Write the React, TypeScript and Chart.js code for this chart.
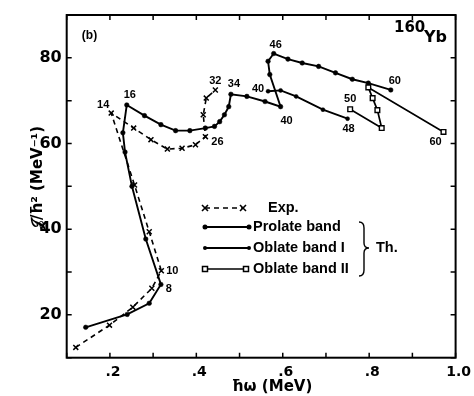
import React, { useEffect, useRef } from 'react';
import { Chart, registerables } from 'chart.js';

Chart.register(...registerables);

// ---------- data ----------
const expOmega = [0.121, 0.199, 0.253, 0.297, 0.319, 0.291, 0.257, 0.203, 0.255, 0.295, 0.333, 0.367, 0.398, 0.421, 0.416, 0.423, 0.444];
const expJ = [12.4, 17.6, 21.8, 26.2, 30.3, 39.4, 50.3, 67.1, 63.6, 60.9, 58.7, 58.9, 59.7, 61.6, 66.7, 70.6, 72.5];

const prolateOmega = [0.144, 0.240, 0.291, 0.318, 0.283, 0.251, 0.235, 0.230, 0.239, 0.280, 0.318, 0.352, 0.385, 0.421, 0.442, 0.454, 0.465, 0.475, 0.480, 0.517, 0.559, 0.595, 0.570, 0.566, 0.579, 0.612, 0.645, 0.683, 0.722, 0.761, 0.798, 0.850];
const prolateJ = [17.1, 20.1, 22.7, 27.1, 37.7, 50.0, 58.0, 62.5, 69.0, 66.5, 64.4, 63.0, 63.0, 63.6, 64.0, 65.1, 66.7, 68.6, 71.5, 71.0, 69.8, 68.6, 76.1, 79.2, 81.0, 79.7, 78.8, 78.0, 76.5, 75.0, 74.1, 72.5];

const oblate1Omega = [0.566, 0.595, 0.631, 0.693, 0.750];
const oblate1J = [72.2, 72.4, 71.0, 67.9, 65.8];

const oblate2Omega = [0.756, 0.829, 0.819, 0.808, 0.798, 0.972];
const oblate2J = [68.0, 63.6, 67.8, 70.6, 73.1, 62.7];

const xTickValues = [0.2, 0.4, 0.6, 0.8, 1.0];
const xTickLabels = ['.2', '.4', '.6', '.8', '1.0'];
const yTickValues = [20, 40, 60, 80];
const yTickLabels = ['20', '40', '60', '80'];
const xMinorTicks = [0.1, 0.2, 0.3, 0.4, 0.5, 0.6, 0.7, 0.8, 0.9, 1.0];
const yMinorTicks = [10, 20, 30, 40, 50, 60, 70, 80, 90];

const seriesNames = ['Exp.', 'Prolate band', 'Oblate band I', 'Oblate band II'];

// spin labels: dataset index, point index, text, pixel offset
const spinLabels = [
  { s: 0, i: 7, t: '14', dx: -8, dy: -8 },
  { s: 0, i: 4, t: '10', dx: 11, dy: 0 },
  { s: 0, i: 13, t: '26', dx: 12, dy: 5 },
  { s: 0, i: 16, t: '32', dx: 0, dy: -9 },
  { s: 1, i: 3, t: '8', dx: 8, dy: 5 },
  { s: 1, i: 8, t: '16', dx: 3, dy: -10 },
  { s: 1, i: 18, t: '34', dx: 3, dy: -10 },
  { s: 1, i: 21, t: '40', dx: 6, dy: 14 },
  { s: 1, i: 24, t: '46', dx: 2, dy: -9 },
  { s: 1, i: 31, t: '60', dx: 4, dy: -9 },
  { s: 2, i: 0, t: '40', dx: -10, dy: -2 },
  { s: 2, i: 4, t: '48', dx: 1, dy: 10 },
  { s: 3, i: 0, t: '50', dx: 0, dy: -10 },
  { s: 3, i: 5, t: '60', dx: -8, dy: 10 },
];

const pts = (xs: number[], ys: number[]) => xs.map((x, i) => ({ x, y: ys[i] }));

const TICK_FONT = '"DejaVu Sans"';
const LABEL_FONT = '"Liberation Sans"';

const drawCross = (ctx: CanvasRenderingContext2D, x: number, y: number, r: number) => {
  ctx.beginPath();
  ctx.moveTo(x - r, y - r); ctx.lineTo(x + r, y + r);
  ctx.moveTo(x - r, y + r); ctx.lineTo(x + r, y - r);
  ctx.stroke();
};
const drawDot = (ctx: CanvasRenderingContext2D, x: number, y: number, r: number) => {
  ctx.beginPath(); ctx.arc(x, y, r, 0, Math.PI * 2); ctx.fill();
};
const drawSquare = (ctx: CanvasRenderingContext2D, x: number, y: number, r: number) => {
  ctx.fillStyle = '#fff';
  ctx.fillRect(x - r, y - r, 2 * r, 2 * r);
  ctx.strokeRect(x - r, y - r, 2 * r, 2 * r);
  ctx.fillStyle = '#000';
};

const decorPlugin = {
  id: 'decor',
  beforeDraw(chart: any) {
    const { ctx, width, height } = chart;
    ctx.save();
    ctx.fillStyle = '#fff';
    ctx.fillRect(0, 0, width, height);
    ctx.restore();
  },
  afterDraw(chart: any) {
    const { ctx, chartArea: a, scales } = chart;
    const xs = scales.x;
    const ys = scales.y;
    ctx.save();
    ctx.strokeStyle = '#000';
    ctx.fillStyle = '#000';
    // frame
    ctx.lineWidth = 2;
    ctx.strokeRect(a.left, a.top, a.right - a.left, a.bottom - a.top);
    // inward ticks
    ctx.lineWidth = 1.5;
    ctx.beginPath();
    xMinorTicks.forEach((v) => {
      const px = xs.getPixelForValue(v);
      ctx.moveTo(px, a.bottom); ctx.lineTo(px, a.bottom - 5);
      ctx.moveTo(px, a.top); ctx.lineTo(px, a.top + 5);
    });
    yMinorTicks.forEach((v) => {
      const py = ys.getPixelForValue(v);
      ctx.moveTo(a.left, py); ctx.lineTo(a.left + 5, py);
      ctx.moveTo(a.right, py); ctx.lineTo(a.right - 5, py);
    });
    ctx.stroke();

    // spin labels
    ctx.font = `bold 11px ${LABEL_FONT}`;
    ctx.textAlign = 'center';
    ctx.textBaseline = 'middle';
    spinLabels.forEach((l) => {
      const el = chart.getDatasetMeta(l.s).data[l.i];
      if (el) ctx.fillText(l.t, el.x + l.dx, el.y + l.dy);
    });

    // panel label and nucleus
    ctx.font = `bold 12px ${LABEL_FONT}`;
    ctx.fillText('(b)', 89.5, 36);
    ctx.font = `bold 15px ${TICK_FONT}`;
    ctx.textAlign = 'left';
    ctx.fillText('160', 394, 28);
    ctx.font = `bold 16px ${TICK_FONT}`;
    ctx.fillText('Yb', 424, 38);

    // axis titles
    ctx.font = `bold 15px ${TICK_FONT}`;
    ctx.textAlign = 'center';
    ctx.fillText('\u0127\u03c9 (MeV)', 272, 387);
    ctx.save();
    ctx.translate(38, 178);
    ctx.rotate(-Math.PI / 2);
    ctx.fillText('\ud835\udca5/\u0127\u00b2 (MeV\u207b\u00b9)', 0, 0);
    ctx.restore();

    // legend
    const x0 = 205;
    ctx.lineWidth = 1.6;
    // Exp.
    ctx.setLineDash([5, 4]);
    ctx.beginPath(); ctx.moveTo(x0, 208); ctx.lineTo(243, 208); ctx.stroke();
    ctx.setLineDash([]);
    drawCross(ctx, x0, 208, 3);
    drawCross(ctx, 243, 208, 3);
    // Prolate
    ctx.lineWidth = 1.9;
    ctx.beginPath(); ctx.moveTo(x0, 227); ctx.lineTo(249, 227); ctx.stroke();
    drawDot(ctx, x0, 227, 2.5); drawDot(ctx, 249, 227, 2.5);
    // Oblate I
    ctx.lineWidth = 1.8;
    ctx.beginPath(); ctx.moveTo(x0, 248); ctx.lineTo(249, 248); ctx.stroke();
    drawDot(ctx, x0, 248, 2); drawDot(ctx, 249, 248, 2);
    // Oblate II
    ctx.lineWidth = 1.5;
    ctx.beginPath(); ctx.moveTo(x0, 269); ctx.lineTo(246, 269); ctx.stroke();
    drawSquare(ctx, x0, 269, 2.5); drawSquare(ctx, 246, 269, 2.5);

    ctx.font = `bold 14.5px ${LABEL_FONT}`;
    ctx.textAlign = 'left';
    ctx.fillText(seriesNames[0], 268, 208);
    ctx.fillText(seriesNames[1], 253, 227);
    ctx.fillText(seriesNames[2], 253, 248);
    ctx.fillText(seriesNames[3], 253, 269);

    // brace
    ctx.lineWidth = 1.4;
    ctx.beginPath();
    ctx.moveTo(359, 222);
    ctx.quadraticCurveTo(364, 222, 364, 228);
    ctx.lineTo(364, 243);
    ctx.quadraticCurveTo(364, 248, 369, 248);
    ctx.quadraticCurveTo(364, 248, 364, 253);
    ctx.lineTo(364, 270);
    ctx.quadraticCurveTo(364, 276, 359, 276);
    ctx.stroke();
    ctx.fillText('Th.', 376, 248);

    ctx.restore();
  },
};

export default function App() {
  const ref = useRef<HTMLCanvasElement | null>(null);
  useEffect(() => {
    document.body.style.margin = '0';
    const canvas = ref.current;
    if (!canvas) return;
    const common = { showLine: true, borderColor: '#000', pointBorderColor: '#000', tension: 0 };
    const chart = new Chart(canvas, {
      type: 'scatter',
      data: {
        datasets: [
          {
            ...common,
            label: seriesNames[0],
            data: pts(expOmega, expJ),
            borderWidth: 1.6,
            borderDash: [5, 4],
            pointStyle: 'crossRot',
            pointRadius: 3.5,
            pointBorderWidth: 1.5,
            pointBackgroundColor: '#000',
            order: 1,
          },
          {
            ...common,
            label: seriesNames[1],
            data: pts(prolateOmega, prolateJ),
            borderWidth: 1.9,
            pointStyle: 'circle',
            pointRadius: 2.3,
            pointBorderWidth: 0.5,
            pointBackgroundColor: '#000',
            order: 2,
          },
          {
            ...common,
            label: seriesNames[2],
            data: pts(oblate1Omega, oblate1J),
            borderWidth: 1.8,
            pointStyle: 'circle',
            pointRadius: 2,
            pointBorderWidth: 0.5,
            pointBackgroundColor: '#000',
            order: 3,
          },
          {
            ...common,
            label: seriesNames[3],
            data: pts(oblate2Omega, oblate2J),
            borderWidth: 1.7,
            pointStyle: 'rect',
            pointRadius: 3.3,
            pointBorderWidth: 1.4,
            pointBackgroundColor: '#fff',
            order: 0,
          },
        ],
      },
      options: {
        responsive: false,
        animation: false,
        events: [],
        layout: { padding: { top: 15, right: 15.3, left: 0, bottom: 0 } },
        plugins: { legend: { display: false }, tooltip: { enabled: false } },
        scales: {
          x: {
            type: 'linear',
            min: 0.1,
            max: 1.0,
            grid: { display: false, drawTicks: false },
            border: { display: false },
            ticks: {
              autoSkip: false,
              maxRotation: 0,
              padding: 6,
              labelOffset: 3,
              color: '#000',
              font: { family: TICK_FONT, weight: 'bold', size: 14 },
              callback: (v: any) => {
                const k = xTickValues.findIndex((t) => Math.abs(t - Number(v)) < 1e-6);
                return k >= 0 ? xTickLabels[k] : '';
              },
            },
            afterBuildTicks: (s: any) => { s.ticks = xTickValues.map((v) => ({ value: v })); },
            afterFit: (s: any) => { s.height = 38.3; },
          },
          y: {
            type: 'linear',
            min: 10,
            max: 90,
            grid: { display: false, drawTicks: false },
            border: { display: false },
            ticks: {
              autoSkip: false,
              padding: 5,
              color: '#000',
              font: { family: TICK_FONT, weight: 'bold', size: 16 },
              callback: (v: any) => {
                const k = yTickValues.findIndex((t) => Math.abs(t - Number(v)) < 1e-6);
                return k >= 0 ? yTickLabels[k] : '';
              },
            },
            afterBuildTicks: (s: any) => { s.ticks = yTickValues.map((v) => ({ value: v })); },
            afterFit: (s: any) => { s.width = 66.7; },
          },
        },
      } as any,
      plugins: [decorPlugin],
    });
    return () => chart.destroy();
  }, []);
  return (
    <div style={{ width: 474, height: 396 }}>
      <canvas ref={ref} width={474} height={396} style={{ display: 'block' }} />
    </div>
  );
}
